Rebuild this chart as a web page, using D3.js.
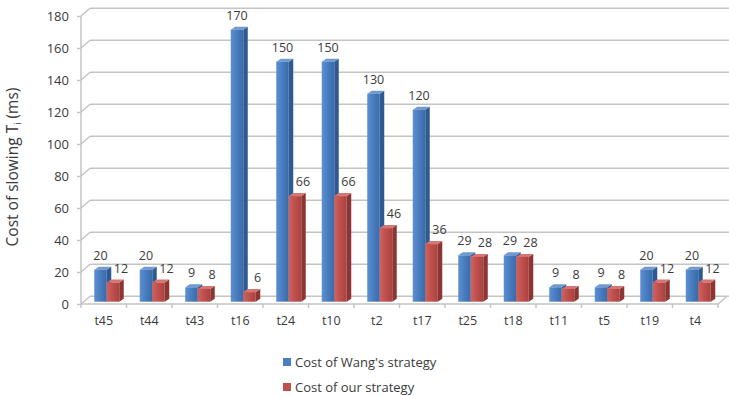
<!DOCTYPE html>
<html>
<head>
<meta charset="utf-8">
<script src="https://cdn.jsdelivr.net/npm/d3@7"></script>
<style>
  body { margin: 0; background: #fff; }
  text { font-family: "Open Sans", sans-serif; fill: #3a3a3a; }
</style>
</head>
<body>
<div id="chart"></div>
<script>
let WIDTH = 729
let HEIGHT = 396

// data
let categories = ["t45", "t44", "t43", "t16", "t24", "t10", "t2", "t17", "t25", "t18", "t11", "t5", "t19", "t4"]
let wangCost = [20, 20, 9, 170, 150, 150, 130, 120, 29, 29, 9, 9, 20, 20]
let ourCost = [12, 12, 8, 6, 66, 66, 46, 36, 28, 28, 8, 8, 12, 12]
let seriesNames = ["Cost of Wang's strategy", "Cost of our strategy"]
let yTicks = [0, 20, 40, 60, 80, 100, 120, 140, 160, 180]

let colors = [
    {front: ["#5b90d2", "#4a7ec0", "#3a6aa8"], side: "#2e5a92", top: "#6f9ad0"},
    {front: ["#d0625f", "#c0504d", "#a84340"], side: "#8c3532", top: "#d67572"}
]

// 3d offsets (front plane -> back wall, front plane -> bar plane, bar depth)
let wall = {dx: 9, dy: -7.7}
let plane = {dx: 3, dy: -2.3}
let depth = {dx: 4.5, dy: -3}

let left = 81, right = 718, floorY = 304

let svg = d3.select("#chart")
    .append('svg')
    .attr('width', WIDTH)
    .attr('height', HEIGHT)

let y = d3.scaleLinear()
    .domain([0, 180])
    .range([floorY, 16])

let x = d3.scaleBand()
    .domain(categories)
    .range([left, right])

let xs = d3.scaleBand()
    .domain([0, 1])
    .range([0, x.bandwidth()])
    .paddingOuter(0.82)

let defs = svg.append('defs')
colors.forEach((c, i) => {
    let g = defs.append('linearGradient').attr('id', 'front' + i)
    g.append('stop').attr('offset', '0%').attr('stop-color', c.front[0])
    g.append('stop').attr('offset', '45%').attr('stop-color', c.front[1])
    g.append('stop').attr('offset', '100%').attr('stop-color', c.front[2])
})

let grid = svg.append('g')
    .attr('fill', 'none')
    .attr('stroke', '#c4c4c4')
    .attr('stroke-width', 1.5)

// back wall gridlines + left wall diagonals
yTicks.forEach(t => {
    grid.append('line')
        .attr('x1', left + wall.dx).attr('x2', WIDTH)
        .attr('y1', y(t) + wall.dy).attr('y2', y(t) + wall.dy)
    grid.append('line')
        .attr('x1', left).attr('x2', left + wall.dx)
        .attr('y1', y(t)).attr('y2', y(t) + wall.dy)
})

// floor
grid.append('path')
    .attr('d', `M${left},${floorY} L${right},${floorY} L${right + wall.dx},${floorY + wall.dy}`)

// front vertical axis
grid.append('line')
    .attr('x1', left).attr('x2', left)
    .attr('y1', y(0)).attr('y2', y(180))

// category separator ticks
d3.range(categories.length + 1).forEach(i => {
    let tx = left + i * x.step()
    grid.append('line')
        .attr('x1', tx).attr('x2', tx)
        .attr('y1', floorY).attr('y2', floorY + 4)
})

let yAxis = svg.append('g')
    .attr('transform', `translate(${left},0)`)
    .call(d3.axisLeft(y).tickValues(yTicks).tickSize(4).tickPadding(8))
yAxis.select('.domain').remove()
yAxis.selectAll('line').attr('stroke', '#c4c4c4').attr('stroke-width', 1.5)
yAxis.selectAll('text').style('font-size', '13px').attr('fill', '#3a3a3a')

let xAxis = svg.append('g')
    .attr('transform', `translate(0,${floorY})`)
    .call(d3.axisBottom(x).tickSize(0).tickPadding(12))
xAxis.select('.domain').remove()
xAxis.selectAll('text').style('font-size', '12.5px').attr('fill', '#3a3a3a')

// bars
let bars = svg.append('g')
let series = [wangCost, ourCost]
categories.forEach((cat, ci) => {
    series.forEach((vals, si) => {
        let v = vals[ci]
        let x0 = x(cat) + xs(si) + plane.dx
        let x1 = x0 + xs.bandwidth()
        let yb = y(0) + plane.dy
        let yt = y(v) + plane.dy
        let c = colors[si]
        bars.append('path')
            .attr('fill', c.side)
            .attr('d', `M${x1},${yb} L${x1 + depth.dx},${yb + depth.dy} L${x1 + depth.dx},${yt + depth.dy} L${x1},${yt} Z`)
        bars.append('path')
            .attr('fill', c.top)
            .attr('d', `M${x0},${yt} L${x0 + depth.dx},${yt + depth.dy} L${x1 + depth.dx},${yt + depth.dy} L${x1},${yt} Z`)
        bars.append('rect')
            .attr('x', x0).attr('y', yt)
            .attr('width', x1 - x0).attr('height', yb - yt)
            .attr('fill', `url(#front${si})`)
    })
})

// value labels
let labels = svg.append('g').style('font-size', '12.5px')
categories.forEach((cat, ci) => {
    series.forEach((vals, si) => {
        let cx = x(cat) + xs(si) + plane.dx + xs.bandwidth() / 2 + (si === 1 ? 8 : 0)
        labels.append('text')
            .attr('x', cx)
            .attr('y', y(vals[ci]) + plane.dy - 10)
            .attr('text-anchor', 'middle')
            .text(vals[ci])
    })
})

// y title
let title = svg.append('text')
    .attr('transform', 'translate(18,167) rotate(-90)')
    .attr('text-anchor', 'middle')
    .style('font-size', '15.5px')
title.append('tspan').text('Cost of slowing T')
title.append('tspan').text('i').style('font-size', '9px').attr('dy', 3)
title.append('tspan').text(' (ms)').attr('dy', -3)

// legend
let legend = svg.append('g').style('font-size', '13px')
seriesNames.forEach((name, i) => {
    let ly = 362 + i * 25
    legend.append('rect')
        .attr('x', 283).attr('y', ly - 4)
        .attr('width', 8).attr('height', 8)
        .attr('fill', colors[i].front[1])
    legend.append('text')
        .attr('x', 295).attr('y', ly + 4.5)
        .text(name)
})
</script>
</body>
</html>
